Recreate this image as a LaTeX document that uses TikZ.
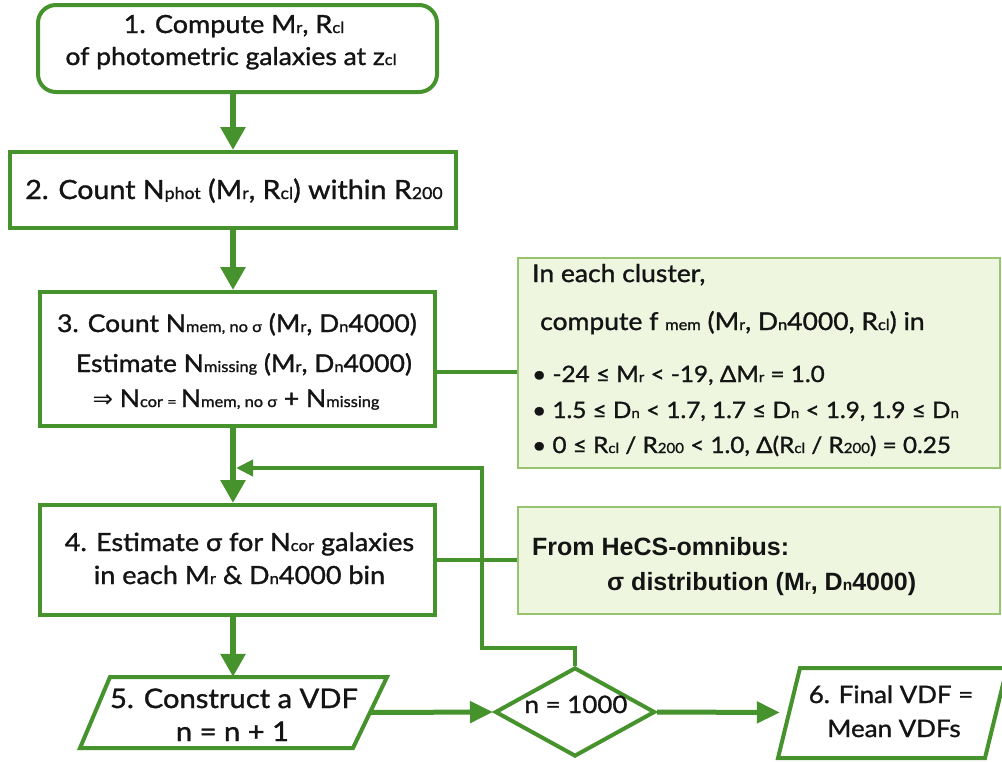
\documentclass[tikz,border=0pt]{standalone}
\usepackage{fontspec}
\usetikzlibrary{arrows.meta,shapes.geometric}
\newfontfamily\av[FakeBold=1.2,FakeStretch=1.08]{Lato}
\newfontfamily\ar{Liberation Sans}
\newfontfamily\dv{DejaVu Sans}
\makeatletter
\newcommand\lo[1]{{\edef\losz{\strip@pt\dimexpr0.62\dimexpr\f@size pt\relax\relax}\fontsize{\losz}{\losz}\selectfont #1}}
\makeatother
\definecolor{gr}{RGB}{70,146,44}
\definecolor{lfill}{RGB}{239,246,224}
\definecolor{lborder}{RGB}{150,196,112}
\definecolor{txt}{RGB}{20,20,20}
\tikzset{
  mainbox/.style={draw=gr, line width=4pt, fill=white, inner sep=0pt},
  mtext/.style={anchor=base, inner sep=0pt, text=txt, font=\av\fontsize{#1}{#1}\selectfont},
  sidebox/.style={draw=lborder, line width=1.5pt, fill=lfill},
  sidetext/.style={anchor=base west, inner sep=0pt, text=txt},
  varrow/.style={draw=gr, line width=6pt, -{Triangle[width=24pt,length=23pt]}},
  harrow/.style={draw=gr, line width=5pt, -{Triangle[width=21pt,length=23pt]}},
  looparrow/.style={draw=gr, line width=4pt, -{Triangle[width=16pt,length=17pt]}},
  sideline/.style={draw=gr, line width=3.5pt},
  pgram/.style={draw=gr, line width=4pt, fill=white, line join=miter},
}
\begin{document}
\begin{tikzpicture}[x=1pt,y=-1pt]
\useasboundingbox (0,0) rectangle (1002,761);
\fill[white] (0,0) rectangle (1002,761);

% box 1
\node[mainbox, rounded corners=18pt, minimum width=399pt, minimum height=87pt] (b1) at (237.5,48.5) {};
\node[mtext=25] (t1a) at (234,33) {1. Compute M\lo{r}, R\lo{cl}};
\node[mtext=24.5] (t1b) at (231,65) {of photometric galaxies at z\lo{cl}};
% box 2
\node[mainbox, minimum width=446pt, minimum height=76pt] (b2) at (233,190) {};
\node[mtext=26.5] (t2) at (234,199) {2. Count N\lo{phot} (M\lo{r}, R\lo{cl}) within R\lo{200}};
% box 3
\node[mainbox, minimum width=395pt, minimum height=134pt] (b3) at (237.5,359) {};
\node[mtext=24.5] (t3a) at (237,332) {3. Count N\lo{mem, no σ} (M\lo{r}, D\lo{n}4000)};
\node[mtext=24.5] (t3b) at (244,372) {Estimate N\lo{missing} (M\lo{r}, D\lo{n}4000)};
\node[mtext=24.5] (t3c) at (236,407) {{\dv ⇒} N\lo{cor = }N\lo{mem, no σ} + N\lo{missing}};
% box 4
\node[mainbox, minimum width=395pt, minimum height=110pt] (b4) at (237.5,560) {};
\node[mtext=25] (t4a) at (239.5,551) {4. Estimate σ for N\lo{cor} galaxies};
\node[mtext=25] (t4b) at (239.5,584) {in each M\lo{r} \& D\lo{n}4000 bin};

% parallelogram 5
\draw[pgram] (110,677) -- (387,677) -- (353,748) -- (80,748) -- cycle;
\node[minimum width=275pt, minimum height=71pt, inner sep=0pt] (p5) at (232.5,712.5) {};
\node[mtext=27] (t5a) at (234,708) {5. Construct a VDF};
\node[mtext=27] (t5b) at (232.5,741) {n = n + 1};

% decision
\node[draw=gr, line width=4pt, fill=white, shape=diamond, aspect=1.8, inner sep=0pt,
  minimum width=160pt, minimum height=89pt] (d) at (575,712) {};
\node[mtext=24] (td) at (576,713) {n = 1000};

% parallelogram 6
\draw[pgram] (800,668) -- (1007,668) -- (985,758) -- (778,758) -- cycle;
\node[minimum width=224pt, minimum height=90pt, inner sep=0pt] (p6) at (892,712.5) {};
\node[mtext=24] (t6a) at (891,703) {6. Final VDF =};
\node[mtext=24] (t6b) at (894,737) {Mean VDFs};

% side box A
\node[sidebox, minimum width=482pt, minimum height=210pt] (rA) at (759,363) {};
\node[sidetext, font=\av\fontsize{24.5}{30}\selectfont] (rA1) at (532,282) {In each cluster,};
\node[sidetext, font=\av\fontsize{24.5}{30}\selectfont] (rA2) at (540,330) {compute f \lo{mem} (M\lo{r}, D\lo{n}4000, R\lo{cl}) in};
\node[sidetext, font=\av\fontsize{22.5}{28}\selectfont] (rA3) at (532,382) {• -24 ≤ M\lo{r} < -19, ΔM\lo{r} = 1.0};
\node[sidetext, font=\av\fontsize{22.5}{28}\selectfont] (rA4) at (532,418) {• 1.5 ≤ D\lo{n} < 1.7, 1.7 ≤ D\lo{n} < 1.9, 1.9 ≤ D\lo{n}};
\node[sidetext, font=\av\fontsize{22.5}{28}\selectfont] (rA5) at (532,453) {• 0 ≤ R\lo{cl} / R\lo{200} < 1.0, Δ(R\lo{cl} / R\lo{200}) = 0.25};

% side box B
\node[sidebox, minimum width=482pt, minimum height=107pt] (rB) at (759,560.5) {};
\node[sidetext, font=\ar\bfseries\fontsize{25}{30}\selectfont] (rB1) at (532,555) {From HeCS-omnibus:};
\node[sidetext, font=\ar\bfseries\fontsize{25}{30}\selectfont] (rB2) at (607,590) {σ distribution (M\lo{r}, D\lo{n}4000)};

% connectors
\draw[varrow] (b1.south -| b2.north) -- (b2.north);
\draw[varrow] (b2.south) -- (b3.north -| b2.south);
\draw[varrow] (b3.south -| b2.south) -- (b4.north -| b2.south);
\draw[varrow] (b4.south -| b2.south) -- (p5.north -| b2.south);
\draw[harrow] (p5.east) -- (d.west);
\draw[harrow] (d.east) -- (p6.west);

\draw[sideline] ([yshift=-13pt]b3.east) -- ([yshift=-13pt]b3.east -| rA.west);
\draw[sideline] (b4.east) -- (b4.east -| rB.west);

\coordinate (lc) at (482,648);
\coordinate (lj) at (236,468);
\draw[looparrow] (d.north) |- (lc) |- (lj);
\end{tikzpicture}
\end{document}
